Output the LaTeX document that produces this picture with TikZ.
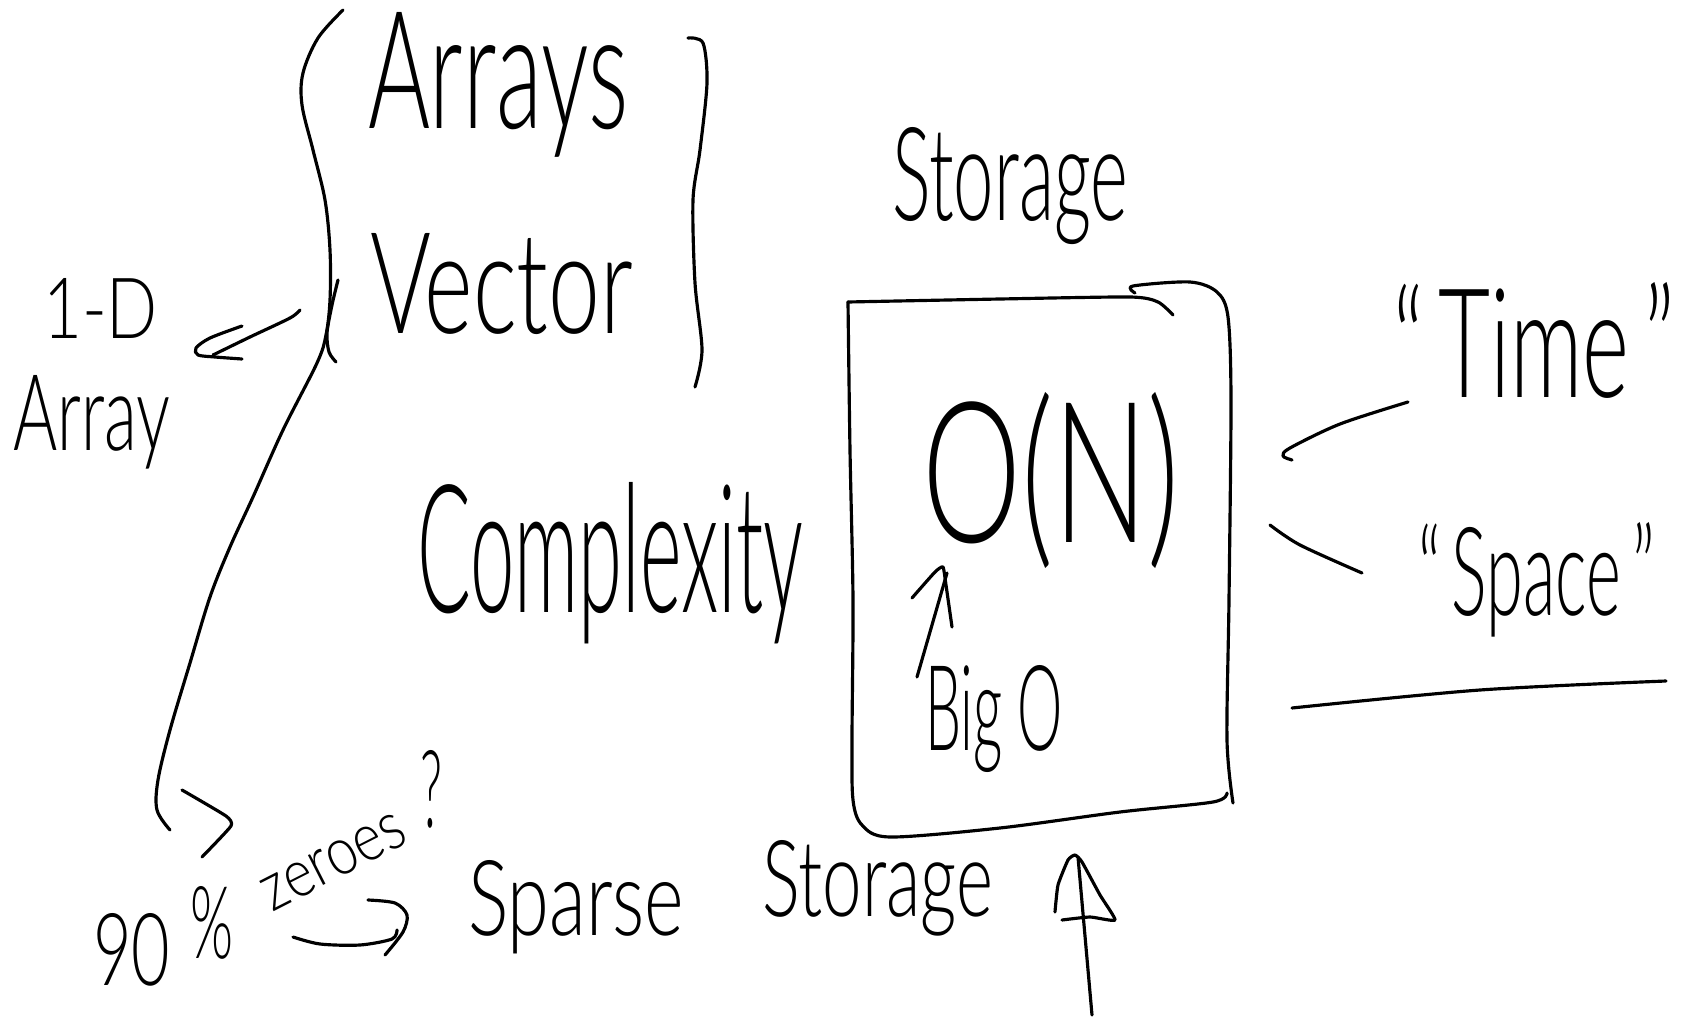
\documentclass[tikz,border=0pt]{standalone}
\usepackage{fontspec}
\usepackage{graphicx}
% a light sans for the handwritten words, with a fallback
\IfFontExistsTF{Lato Light}
  {\newfontfamily\handfont{Lato Light}}
  {\newfontfamily\handfont{Fira Sans}}
% a word set in the hand font and stretched to a given width and height (in cm)
\newcommand\handword[3]{\resizebox{#1cm}{#2cm}{\handfont #3}}

\begin{document}
\begin{tikzpicture}[x=0.01cm,y=-0.01cm,
  pen/.style={line width=0.9pt,line cap=round,line join=round},
  word/.style={inner sep=0pt,outer sep=0pt,anchor=base west}]
\fill[white] (0,0) rectangle (1696,1021);
\useasboundingbox (0,0) rectangle (1696,1021);

% ---- words ----
\node[word] (arrays)   at (368,128) {\handword{2.60}{1.16}{Arrays}};
\node[word] (vector)   at (370,333) {\handword{2.63}{1.00}{Vector}};
\node[word] (array)    at (13,450)  {\handword{1.57}{0.75}{Array}};
\node[word] (oned)     at (43,338)  {\handword{1.15}{0.60}{1-D}};
\node[word] (storage)  at (892,220) {\handword{2.36}{0.93}{Storage}};
\node[word] (complex)  at (417,612) {\handword{3.86}{1.30}{Complexity}};
\node[word] (orderN)   at (922,542) {\handword{2.58}{1.50}{O(N)}};
\node[word] (bigO)     at (925,750) {\handword{1.38}{0.85}{Big O}};
\node[word] (time)     at (1393,397) {\handword{2.82}{1.15}{“\,Time\,”}};
\node[word] (space)    at (1418,615) {\handword{2.37}{0.93}{“\,Space\,”}};
\node[word] (ninety)   at (93,985)  {\handword{0.77}{0.72}{90}};
\node[word] (percent)  at (190,958) {\handword{0.43}{0.72}{\%}};
\node[inner sep=0pt,rotate=27] (zeroes) at (334,862) {\handword{1.55}{0.34}{zeroes}};
\node[word] (question) at (420,827) {\handword{0.22}{0.77}{?}};
\node[word] (sparse)   at (468,935) {\handword{2.16}{0.75}{Sparse}};
\node[word] (storageB) at (762,916) {\handword{2.31}{0.76}{Storage}};

% ---- connector end points ----
\coordinate (toArrayStart) at (300,310);
\coordinate (toArrayEnd)   at (213,355);
\coordinate (timeStart)    at (1408,402);
\coordinate (spaceEnd)     at (1362,573);
\coordinate (bigOTip)      at (947,573);
\coordinate (bigOTail)     at (917,677);
\coordinate (upTip)        at (1078,857);
\coordinate (upTail)       at (1092,1015);

% ---- brace round Arrays / Vector, running down to the chevron ----
\draw[pen] plot[smooth,tension=0.55] coordinates {(343,10) (318,38) (303,73) (302,105)
  (313,150) (325,200) (330,250) (330,300) (326,335) (317,363) (283,430) (253,497)
  (230,547) (210,597) (190,663) (170,730) (158,780) (157,810) (170,830)};
\draw[pen] plot[smooth] coordinates {(338,280) (332,305) (327,333) (329,352) (336,362)};
\draw[pen] plot[smooth] coordinates {(688,38) (703,43) (707,83) (700,150) (693,200)
  (695,283) (702,350) (695,387)};
\draw[pen] plot[smooth,tension=0.3] coordinates {(182,790) (226,816) (231,826) (202,857)};

% ---- arrow from Vector to Array ----
\draw[pen] plot[smooth] coordinates {(toArrayStart) (290,318) (250,337) (toArrayEnd)};
\draw[pen] plot[smooth] coordinates {(242,326) (210,338) (196,348) (198,355) (215,357) (242,359)};

% ---- the storage box ----
\draw[pen] plot[smooth,tension=0.4] coordinates {(848,302) (1000,299) (1130,297) (1158,302) (1173,315)};
\draw[pen] plot[smooth,tension=0.5] coordinates {(848,302) (850,450) (853,600) (852,740)
  (853,800) (862,825) (890,837) (1000,828) (1120,812) (1213,802) (1227,793)};
\draw[pen] plot[smooth,tension=0.5] coordinates {(1135,293) (1133,286) (1190,282) (1217,292)
  (1228,317) (1231,400) (1229,600) (1227,740) (1233,803)};

% ---- strokes to Time and Space, and the rule below ----
\draw[pen] plot[smooth] coordinates {(timeStart) (1340,424) (1290,448) (1283,456) (1292,460)};
\draw[pen] plot[smooth] coordinates {(1270,525) (1300,545) (spaceEnd)};
\draw[pen] plot[smooth] coordinates {(1292,708) (1480,690) (1666,681)};

% ---- arrow from Big O up to O(N) ----
\draw[pen] (bigOTail) -- (bigOTip);
\draw[pen] plot[smooth,tension=0.3] coordinates {(912,598) (935,572) (943,567) (946,585) (952,627)};

% ---- arrow under the box ----
\draw[pen] (upTail) -- (upTip);
\draw[pen] plot[smooth,tension=0.3] coordinates {(1055,912) (1058,885) (1068,860) (1075,855)
  (1082,862) (1100,895) (1115,920) (1090,917) (1062,920)};

% ---- arrow from zeroes to Sparse Storage ----
\draw[pen] plot[smooth] coordinates {(293,937) (320,944) (360,945) (392,939) (397,930)};
\draw[pen] plot[smooth] coordinates {(368,900) (395,903) (407,915) (403,932) (385,955)};
\end{tikzpicture}
\end{document}
